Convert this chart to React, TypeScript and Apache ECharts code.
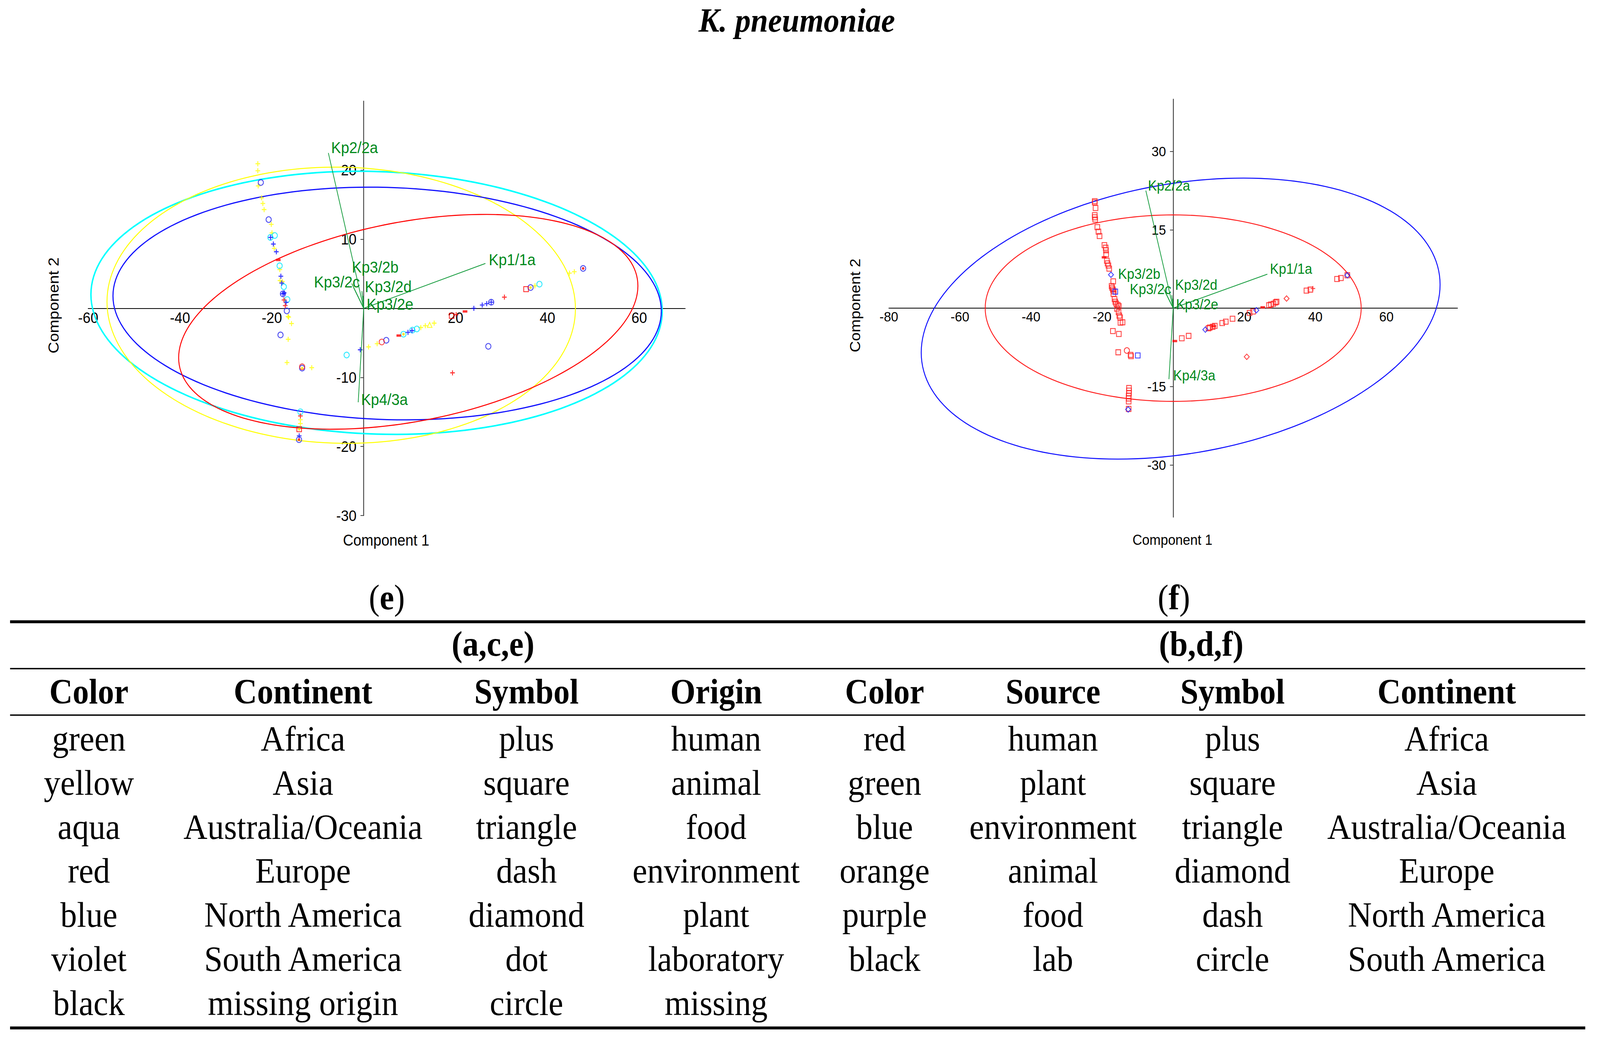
import React, { useEffect, useRef } from 'react';
import * as echarts from 'echarts';

// ---------- axes ----------
const leftXTicks = [-60, -40, -20, 20, 40, 60];
const leftYTicks = [-30, -20, -10, 10, 20];
const rightXTicks = [-80, -60, -40, -20, 20, 40, 60];
const rightYTicks = [-30, -15, 15, 30];

// ---------- loadings (biplot vectors) ----------
const loadNames = ['Kp1/1a', 'Kp2/2a', 'Kp3/2b', 'Kp3/2c', 'Kp3/2d', 'Kp3/2e', 'Kp4/3a'];
const loadX = [26.5, -7.7, -2.6, -2.2, -0.4, -0.1, -1.2];
const loadY = [6.5, 22.5, 3.6, 3.0, 2.5, 1.8, -13.6];
const labelLeftX = [27.23, -7.09, -2.59, -10.83, 0.24, 0.63, -0.57];
const labelLeftY = [6.31, 22.5, 5.2, 3.07, 2.38, -0.17, -13.94];
const labelRightX = [27.23, -7.1, -15.5, -12.2, 0.55, 0.8, 0.0];
const labelRightY = [6.58, 22.5, 5.6, 2.7, 3.51, -0.2, -13.83];

// ---------- ellipses: [centerX, centerY, halfWidth, halfHeight, yOffsetAtRightExtreme] ----------
const leftEllipses = [
  [2.8, 0.8, 62.2, 19.05, -1.2],
  [-4.9, 0.45, 51, 20.0, -0.5],
  [5.1, 0.7, 59.7, 16.85, -1.1],
  [9.7, -1.95, 50, 15.55, 5.2],
];
const leftEllipseColors = ['#00ffff', '#ffff00', '#1010ff', '#ff0000'];
const leftEllipseWidths = [4, 2.5, 3, 2.6];
const rightEllipses = [
  [2.1, -2.0, 73, 26.9, 6.5],
  [0, 0, 52.9, 17.85, 0],
];
const rightEllipseColors = ['#1010ff', '#ff1a1a'];
const rightEllipseWidths = [2.6, 2.4];

// ---------- left plot points (e) ----------
const leftYellowPlus = [[-23.06, 20.94], [-23.06, 19.92], [-22.98, 17.73], [-22.22, 16.0], [-21.96, 15.18], [-21.69, 14.3], [-20.13, 12.16], [-19.98, 10.93], [-19.49, 8.68], [-18.27, 5.61], [-18.23, 4.02], [-17.7, 3.88], [-16.48, -1.19], [-16.33, -1.27], [-15.73, -2.2], [-16.45, -4.48], [-16.71, -7.85], [-11.32, -8.59], [-13.79, -16.13], [-13.79, -16.68], [1.06, -5.58], [2.92, -5.12], [12.43, -2.78], [13.41, -2.52], [15.34, -2.14], [37.28, 3.26], [44.8, 5.1], [45.85, 5.3]];
const leftBluePlus = [[-20.28, 10.27], [-19.68, 9.31], [-19.03, 8.19], [-18.04, 4.65], [-17.85, 3.66], [-17.32, 2.24], [-16.9, 0.87], [-17.59, 2.1], [-14.05, -18.46], [-0.76, -6.0], [9.64, -3.48], [10.51, -3.23], [23.98, 0.0], [25.8, 0.48], [26.78, 0.68], [27.76, 0.89]];
const leftBlueCircle = [[-22.41, 18.22], [-20.7, 12.85], [-17.59, 2.1], [-16.75, -0.37], [-18.12, -3.85], [-13.41, -8.65], [-14.09, -19.01], [4.91, -4.62], [27.76, 0.89], [36.33, 3.01], [27.13, -5.5], [47.77, 5.78]];
const leftCyanCircle = [[-19.37, 10.55], [-20.32, 10.27], [-18.31, 6.16], [-17.4, 3.12], [-16.64, 1.28], [-13.79, -14.98], [-3.72, -6.76], [8.66, -3.74], [10.61, -3.15], [11.56, -2.98], [38.26, 3.51]];
const leftRedCircle = [[-13.41, -8.46], [3.93, -4.87]];
const leftRedPlus = [[-17.36, 1.22], [-17.09, 0.4], [-13.79, -15.58], [20.13, -0.91], [30.63, 1.62], [19.33, -9.34]];
const leftRedDash = [[-18.61, 7.01], [7.64, -3.94], [22.06, -0.45]];
const leftRedSquare = [[-14.05, -17.5], [19.15, -1.08], [35.35, 2.78]];
const leftRedDot = [[-14.09, -19.01], [47.77, 5.78]];
const leftYellowDot = [[-13.41, -8.65], [8.66, -3.74], [36.33, 3.01], [-14.05, -17.5]];
const leftYellowTriangle = [[14.36, -2.4]];

// ---------- right plot points (f) ----------
const rightRedSquare = [[-22.07, 20.47], [-22.07, 20.24], [-21.85, 19.17], [-22.07, 17.8], [-22.07, 17.4], [-21.94, 16.97], [-21.35, 15.5], [-21.03, 14.64], [-20.72, 13.8], [-19.36, 12.07], [-19.0, 11.57], [-18.91, 11.07], [-18.86, 10.3], [-18.68, 9.07], [-18.46, 8.57], [-18.23, 8.16], [-18.0, 7.56], [-16.87, 5.13], [-17.33, 4.23], [-17.19, 3.89], [-16.97, 3.56], [-16.74, 3.23], [-16.83, 2.73], [-16.51, 1.73], [-16.29, 1.23], [-16.06, 0.89], [-15.61, 0.63], [-15.29, 0.39], [-15.83, -0.11], [-15.38, -0.78], [-15.16, -1.44], [-14.93, -1.78], [-14.25, -2.71], [-14.84, -2.78], [-16.97, -4.38], [-15.29, -4.95], [-15.47, -8.45], [-11.99, -8.95], [-11.86, -9.18], [-12.44, -15.29], [-12.44, -15.79], [-12.44, -16.29], [-12.53, -16.79], [-12.53, -17.29], [-12.53, -17.86], [-12.53, -19.29], [2.43, -5.76], [4.35, -5.31], [9.95, -3.85], [10.3, -3.71], [11.1, -3.57], [11.7, -3.39], [13.8, -2.85], [14.8, -2.59], [16.7, -2.03], [21.5, -0.9], [22.5, -0.64], [26.95, 0.56], [27.5, 0.7], [28.2, 0.83], [28.8, 1.09], [29.1, 1.23], [37.5, 3.36], [38.6, 3.55], [46.1, 5.58], [47.2, 5.77], [49.0, 6.3]];
const rightRedDash = [[-19.45, 9.73], [0.47, -6.3], [11.4, -3.45], [25.2, 0.16]];
const rightRedDiamond = [[31.9, 1.84], [20.7, -9.31]];
const rightRedCircle = [[-13.03, -8.11]];
const rightRedPlus = [[39.3, 3.76]];
const rightBlueDiamond = [[-17.51, 6.4], [9.05, -4.11], [23.4, -0.4], [49.0, 6.3], [-12.67, -19.39]];
const rightBlueSquare = [[-9.96, -9.05], [-16.29, 3.16]];

// ---------- table ----------
const headers = ['Color', 'Continent', 'Symbol', 'Origin', 'Color', 'Source', 'Symbol', 'Continent'];
const eColor = ['green', 'yellow', 'aqua', 'red', 'blue', 'violet', 'black'];
const eContinent = ['Africa', 'Asia', 'Australia/Oceania', 'Europe', 'North America', 'South America', 'missing origin'];
const eSymbol = ['plus', 'square', 'triangle', 'dash', 'diamond', 'dot', 'circle'];
const eOrigin = ['human', 'animal', 'food', 'environment', 'plant', 'laboratory', 'missing'];
const fColor = ['red', 'green', 'blue', 'orange', 'purple', 'black'];
const fSource = ['human', 'plant', 'environment', 'animal', 'food', 'lab'];
const fSymbol = ['plus', 'square', 'triangle', 'diamond', 'dash', 'circle'];
const fContinent = ['Africa', 'Asia', 'Australia/Oceania', 'Europe', 'North America', 'South America'];

const W = 4446;
const H = 2668;
const SANS = '"Liberation Sans", Arial, sans-serif';
const SERIF = '"Liberation Serif", "Times New Roman", serif';
const GREEN_TEXT = '#008a1c';
const GREEN_LINE = '#119a3a';
const PLUS = 'path://M4,0H6V4H10V6H6V10H4V6H0V4H4Z';

function xAxisCfg(gridIndex: number, min: number, max: number, ticks: number[], offset: number, fs: number) {
  return {
    type: 'value', gridIndex, min, max, position: 'bottom', offset,
    splitLine: { show: false },
    axisLine: { show: true, onZero: false, lineStyle: { color: '#000', width: 2 } },
    axisTick: { show: false },
    axisLabel: { customValues: ticks, margin: 4, fontSize: fs, fontFamily: SANS, color: '#000' },
  };
}
function yAxisCfg(gridIndex: number, min: number, max: number, ticks: number[], offset: number, fs: number) {
  return {
    type: 'value', gridIndex, min, max, position: 'left', offset,
    splitLine: { show: false },
    axisLine: { show: true, onZero: false, lineStyle: { color: '#444', width: 2.5 } },
    axisTick: { show: true, customValues: ticks, length: 9, lineStyle: { color: '#444', width: 2 } },
    axisLabel: { customValues: ticks, margin: 20, fontSize: fs, fontFamily: SANS, color: '#000' },
  };
}

type Kind = 'plus' | 'circle' | 'square' | 'diamond' | 'triangle' | 'dash' | 'dot';
function pts(idx: number, data: number[][], kind: Kind, color: string, z = 3) {
  const base: any = { type: 'scatter', xAxisIndex: idx, yAxisIndex: idx, data, silent: true, z };
  if (kind === 'plus') return { ...base, symbol: PLUS, symbolSize: 13, itemStyle: { color } };
  if (kind === 'dash') return { ...base, symbol: 'rect', symbolSize: [13, 6], itemStyle: { color } };
  if (kind === 'dot') return { ...base, symbol: 'circle', symbolSize: 7, itemStyle: { color } };
  const sym = kind === 'square' ? 'rect' : kind;
  const size = kind === 'square' ? 13 : kind === 'diamond' ? 14 : kind === 'triangle' ? 13 : 14.5;
  return { ...base, symbol: sym, symbolSize: size, itemStyle: { color: 'rgba(0,0,0,0)', borderColor: color, borderWidth: 2.3 } };
}

function ellipseSeries(idx: number, data: number[][], colors: string[], widths: number[]) {
  return {
    type: 'custom', xAxisIndex: idx, yAxisIndex: idx, data, silent: true, z: 2,
    renderItem: (params: any, api: any) => {
      const cx = api.value(0), cy = api.value(1), hw = api.value(2), hh = api.value(3), k = api.value(4);
      const q = Math.sqrt(Math.max(hh * hh - k * k, 0));
      const points: number[][] = [];
      for (let d = 0; d <= 360; d += 2) {
        const t = (d * Math.PI) / 180;
        points.push(api.coord([cx + hw * Math.cos(t), cy + k * Math.cos(t) + q * Math.sin(t)]));
      }
      return {
        type: 'polyline', shape: { points },
        style: { stroke: colors[params.dataIndex], lineWidth: widths[params.dataIndex], fill: 'none' },
      };
    },
  };
}

function vectorSeries(idx: number, lx: number[], ly: number[], fs: number) {
  const data = loadNames.map((_, i) => [loadX[i], loadY[i], lx[i], ly[i]]);
  return {
    type: 'custom', xAxisIndex: idx, yAxisIndex: idx, data, silent: true, z: 4,
    renderItem: (params: any, api: any) => {
      const o = api.coord([0, 0]);
      const e = api.coord([api.value(0), api.value(1)]);
      const l = api.coord([api.value(2), api.value(3)]);
      return {
        type: 'group',
        children: [
          { type: 'line', shape: { x1: o[0], y1: o[1], x2: e[0], y2: e[1] }, style: { stroke: GREEN_LINE, lineWidth: 2 } },
          {
            type: 'text', x: l[0], y: l[1] - 0.34 * fs,
            style: { text: loadNames[params.dataIndex], fill: GREEN_TEXT, fontSize: fs, fontFamily: SANS, align: 'left', verticalAlign: 'middle' },
          },
        ],
      };
    },
  };
}

function txt(text: string, x: number, baseline: number, size: number, opts: any = {}) {
  return {
    type: 'text', x, y: baseline - 0.34 * size, silent: true,
    style: {
      text, fill: '#000', fontSize: size, fontFamily: opts.family || SERIF,
      fontWeight: opts.weight || 'normal', fontStyle: opts.style || 'normal',
      align: opts.align || 'center', textAlign: opts.align || 'center',
      verticalAlign: 'middle', textVerticalAlign: 'middle',
    },
  };
}

function rule(y: number, h: number) {
  return { type: 'rect', silent: true, shape: { x: 28, y: y - h / 2, width: 4377, height: h }, style: { fill: '#000' } };
}

export default function App() {
  const ref = useRef<HTMLDivElement>(null);
  const vw = typeof window !== 'undefined' ? window.innerWidth : W;
  const vh = typeof window !== 'undefined' ? window.innerHeight : H;
  const sx = vw / W;
  const sy = vh / H;
  useEffect(() => {
    document.documentElement.style.overflow = 'hidden';
    document.body.style.overflow = 'hidden';
    const chart = echarts.init(ref.current as HTMLDivElement, null, { renderer: 'svg', width: W, height: H });
    const colX = [247, 842, 1463, 1990, 2458, 2926, 3425, 4020];
    const rowBase = (i: number) => 1922 + 112.8 * i;
    const BODY = 92;
    const HEAD = 90;
    const graphic: any[] = [];
    graphic.push(txt('K. pneumoniae', 2214, 81, 87, { weight: 'bold', style: 'italic' }));
    const paren = (letter: string, x: number) => ({
      type: 'text', x, y: 1560 - 0.34 * HEAD, silent: true,
      style: {
        text: '{n|(}{b|' + letter + '}{n|)}', align: 'center', verticalAlign: 'middle',
        textAlign: 'center', textVerticalAlign: 'middle',
        rich: {
          n: { fontSize: HEAD, fontFamily: SERIF, fill: '#000', color: '#000' },
          b: { fontSize: HEAD, fontFamily: SERIF, fontWeight: 'bold', fill: '#000', color: '#000' },
        },
      },
    });
    graphic.push(paren('e', 1075));
    graphic.push(paren('f', 3262));
    graphic.push(txt('(a,c,e)', 1370, 1679, HEAD, { weight: 'bold' }));
    graphic.push(txt('(b,d,f)', 3338, 1679, HEAD, { weight: 'bold' }));
    headers.forEach((h, i) => graphic.push(txt(h, colX[i], 1801, HEAD, { weight: 'bold' })));
    const cols = [eColor, eContinent, eSymbol, eOrigin, fColor, fSource, fSymbol, fContinent];
    cols.forEach((col, ci) => col.forEach((v, ri) => graphic.push(txt(v, colX[ci], rowBase(ri), BODY))));
    graphic.push(rule(1592, 7.5), rule(1712, 3.6), rule(1831, 3.6), rule(2632, 7.5));
    graphic.push(txt('Component 1', 1073, 1397, 40, { family: SANS }));
    graphic.push(txt('Component 1', 3258, 1395, 37, { family: SANS }));
    const comp2 = (x: number, fs: number) => ({
      type: 'text', x, y: 782, rotation: Math.PI / 2, silent: true,
      style: { text: 'Component 2', fill: '#000', fontSize: fs, fontFamily: SANS, align: 'center', verticalAlign: 'middle', textAlign: 'center', textVerticalAlign: 'middle' },
    });
    graphic.push(comp2(148, 41), comp2(2376, 40));

    const g0 = { left: 245, top: 259, width: 1659, height: 1061 };
    const g1 = { left: 2470, top: 254, width: 1580, height: 1070 };
    const option: any = {
      animation: false,
      backgroundColor: '#fff',
      grid: [g0, g1],
      xAxis: [
        xAxisCfg(0, -60, 70, leftXTicks, -g0.height * 30 / 60, 39),
        xAxisCfg(1, -80, 80, rightXTicks, -g1.height * 40 / 80, 36),
      ],
      yAxis: [
        yAxisCfg(0, -30, 30, leftYTicks, -g0.width * 60 / 130, 39),
        yAxisCfg(1, -40, 40, rightYTicks, -g1.width * 80 / 160, 36),
      ],
      series: [
        ellipseSeries(0, leftEllipses, leftEllipseColors, leftEllipseWidths),
        pts(0, leftYellowPlus, 'plus', '#ffff00'),
        pts(0, leftYellowTriangle, 'triangle', '#ffff00'),
        pts(0, leftCyanCircle, 'circle', '#00e5ff'),
        pts(0, leftBluePlus, 'plus', '#0000ff'),
        pts(0, leftBlueCircle, 'circle', '#2222ee'),
        pts(0, leftRedCircle, 'circle', '#ff2020'),
        pts(0, leftRedPlus, 'plus', '#ff0000'),
        pts(0, leftRedSquare, 'square', '#ff0000'),
        pts(0, leftRedDash, 'dash', '#ff0000'),
        pts(0, leftRedDot, 'dot', '#ff0000'),
        pts(0, leftYellowDot, 'dot', '#ffe000'),
        vectorSeries(0, labelLeftX, labelLeftY, 41),
        ellipseSeries(1, rightEllipses, rightEllipseColors, rightEllipseWidths),
        pts(1, rightRedSquare, 'square', '#ff1a1a'),
        pts(1, rightRedDash, 'dash', '#ff0000'),
        pts(1, rightRedDiamond, 'diamond', '#ff1a1a'),
        pts(1, rightRedCircle, 'circle', '#ff1a1a'),
        pts(1, rightRedPlus, 'plus', '#ff1a1a'),
        pts(1, rightBlueDiamond, 'diamond', '#1a1aff'),
        pts(1, rightBlueSquare, 'square', '#1a1aff'),
        vectorSeries(1, labelRightX, labelRightY, 37),
      ],
      graphic,
    };
    chart.setOption(option);
    return () => chart.dispose();
  }, []);
  return (
    <div
      style={{
        position: 'absolute', left: 0, top: 0, width: W, height: H, overflow: 'hidden',
        transform: `scale(${sx}, ${sy})`, transformOrigin: '0 0', background: '#fff',
      }}
    >
      <div ref={ref} style={{ width: W, height: H }} />
    </div>
  );
}
